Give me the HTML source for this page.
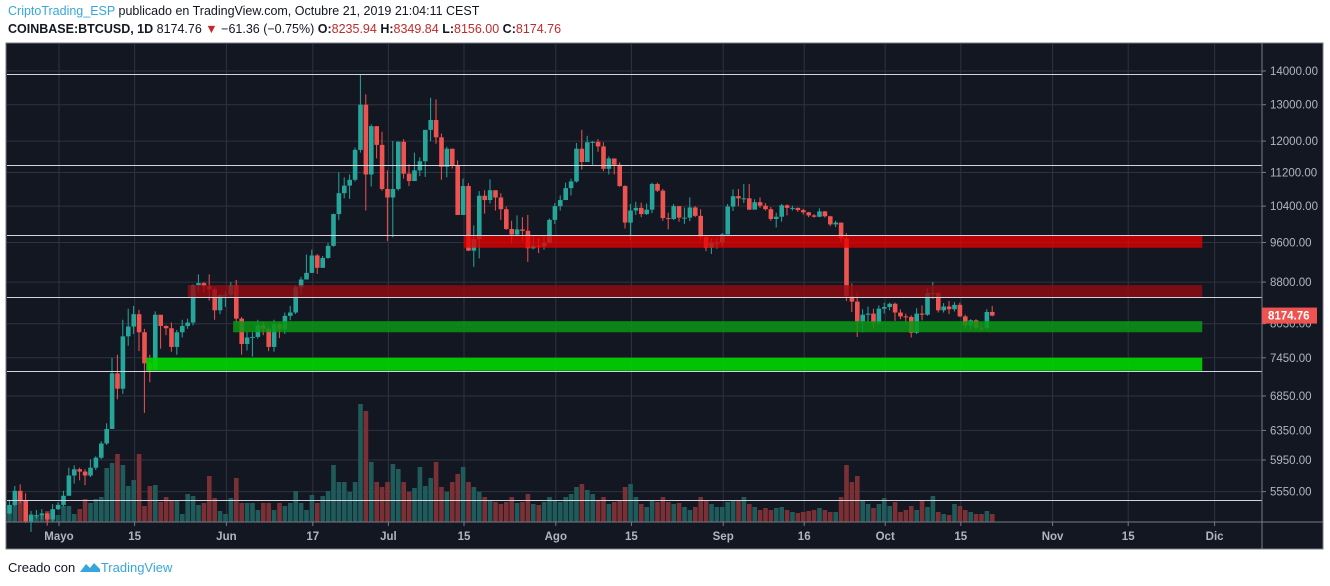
<!DOCTYPE html>
<html><head><meta charset="utf-8">
<style>
body{margin:0;width:1330px;height:586px;background:#fff;overflow:hidden;font-family:"Liberation Sans",sans-serif;}
#hdr1{position:absolute;left:8px;top:4px;font-size:12.5px;color:#131722;white-space:nowrap;}
#hdr2{position:absolute;left:8px;top:22px;font-size:12.5px;color:#131722;white-space:nowrap;}
.r{color:#c62828}
#foot{position:absolute;left:8px;top:560px;font-size:13px;color:#131722;white-space:nowrap;}
svg{position:absolute;left:0;top:0}
</style></head><body>
<div id="hdr1"><span style="color:#37a6de">CriptoTrading_ESP</span> publicado en TradingView.com, Octubre 21, 2019 21:04:11 CEST</div>
<div id="hdr2"><b>COINBASE:BTCUSD, 1D</b> 8174.76 <span class="r">▼</span> −61.36 (−0.75%) <b>O:</b><span class="r">8235.94</span> <b>H:</b><span class="r">8349.84</span> <b>L:</b><span class="r">8156.00</span> <b>C:</b><span class="r">8174.76</span></div>
<svg id="chart" width="1330" height="586"></svg>
<div id="foot">Creado con <span style="color:#37a6de"><svg width="22" height="12" style="position:relative;top:1px;left:0" viewBox="0 0 22 12"><path d="M1 11 L7 3 L11 7 L15 2 L21 8 L21 11 Z" fill="#37a6de"/></svg>TradingView</span></div>
<script>
const firstOpen=5290;
const closes=[5390,5560,5440,5200,5270,5270,5290,5220,5340,
5390,5500,5750,5830,5800,5750,5850,5980,6170,6370,7200,6960,7810,7980,8200,7880,7360,7260,8190,7990,7950,7630,7880,7990,8050,8740,8780,8720,8660,8270,8550,
8560,8740,8120,7680,7790,7800,8000,7940,7630,8020,7930,8170,8230,8700,8850,8980,9330,9080,9280,9530,10220,10700,10880,11020,11770,13000,11150,12400,11900,10800,
10600,10800,11980,11170,10990,11250,11480,12300,12570,12100,11340,11800,11380,10200,10870,9430,9670,10640,10540,10770,10600,10330,9890,9770,9880,9850,9480,9530,9520,9590,10090,
10400,10540,10820,10980,11800,11460,11970,11980,11860,11290,11550,11390,10870,10030,10300,10360,10220,10320,10920,10760,10130,10110,10400,10140,10140,10370,10180,9720,9490,9600,9600,
9770,10390,10630,10580,10580,10320,10490,10410,10330,10110,10160,10420,10360,10360,10310,10260,10190,10160,10280,10170,9990,10030,9690,8530,8430,8070,8190,8210,8050,8300,
8330,8390,8230,8160,8150,7870,8210,8190,8590,8590,8270,8340,8290,8370,8160,8000,8090,7960,7950,8240,8175];
const highs=[5450,5620,5640,5530,5320,5330,5340,5300,5400,
5420,5560,5850,5880,5850,5830,5960,6000,6200,6450,7450,7500,8100,8300,8350,8280,7940,7500,8250,8180,8000,8050,7920,8100,8120,8750,8950,8800,8950,8700,8570,
8630,8800,8840,8150,7890,7880,8100,8060,7980,8100,8050,8230,8350,8740,8900,9350,9450,9360,9320,9590,10230,11200,11080,11150,11830,13880,13300,12450,12400,12250,
11250,12000,12000,12050,11400,11700,11580,12300,13200,13150,12200,11850,11800,11500,11050,10940,9970,10750,10770,11030,10690,10700,10390,10070,10190,10150,10200,9730,9700,9760,10120,
10470,10650,10950,11050,11950,12300,12140,12000,12050,11970,11600,11530,11450,10890,10450,10500,10480,10460,10950,10950,10800,10250,10450,10400,10370,10600,10400,10330,9740,9690,9680,
9800,10450,10790,10800,10920,10920,10560,10600,10470,10380,10250,10450,10440,10410,10370,10340,10270,10220,10350,10290,10180,10070,10030,9800,8770,8600,8290,8340,8300,8360,
8410,8410,8410,8290,8210,8180,8310,8360,8680,8800,8600,8400,8440,8420,8410,8190,8110,8110,8050,8290,8350];
const lows=[5280,5380,5410,5180,5080,5230,5220,5150,5200,
5330,5370,5500,5650,5690,5630,5730,5820,5960,6150,6370,6800,6880,7650,7850,7560,6600,7060,7250,7600,7830,7550,7500,7790,7940,8000,8600,8600,8450,8100,8200,
8330,8500,8050,7500,7570,7470,7770,7830,7560,7550,7780,7850,8090,8200,8560,8900,8980,8960,9080,9260,9510,10090,10580,10570,10980,11700,10300,10860,11550,10760,
9630,9710,10760,11050,10870,10990,11110,11090,12000,11930,11020,11080,11300,10200,10200,9420,9100,9270,10230,10460,10300,10090,9870,9580,9750,9630,9200,9460,9380,9450,9580,
10000,10300,10580,10650,10950,11270,11590,11390,11720,11230,11150,11150,10850,9900,9650,10200,10150,10200,10240,10730,10070,9880,10090,10050,10000,10060,10150,9640,9420,9360,9470,
9520,9770,10290,10400,10470,10310,10320,10360,10300,10070,9920,10050,10190,10300,10270,10210,10150,10140,10150,10140,9950,9930,9620,8440,8240,7800,7880,8050,7950,8010,
8210,8270,8080,8110,8050,7790,7850,8090,8170,8480,8230,8230,8200,8250,8150,7940,7940,7920,7900,7930,8160];
const volumes=[16,29,26,21,8,6,7,11,11,
7,16,16,8,13,23,19,23,25,54,59,68,57,36,42,68,16,36,37,20,25,21,21,8,28,26,17,19,46,24,11,
8,24,44,19,19,19,12,19,19,12,19,16,19,31,19,12,27,19,26,31,57,40,40,30,40,118,111,60,40,35,
40,58,53,40,30,34,55,36,44,60,35,30,40,48,55,40,35,30,25,22,20,18,20,25,19,20,28,18,17,20,25,
22,20,25,28,35,38,32,28,22,25,18,20,22,35,38,25,18,15,22,20,25,20,18,19,15,12,15,25,22,18,15,
15,20,22,22,25,18,15,12,14,12,14,15,12,10,9,10,11,12,14,12,10,10,25,57,40,46,22,18,14,18,
24,16,20,10,12,16,12,21,15,26,10,8,7,18,16,12,10,8,8,11,8];
const firstDay=-9; // days relative to May 1 (Apr 22)
const priceTicks=[14000,13000,12000,11200,10400,9600,8800,8030,7450,6850,6350,5950,5550];
const dateTickDays=[0,14,31,47,61,75,92,106,123,138,153,167,184,198,214];
const dateTickLabels=["Mayo","15","Jun","17","Jul","15","Ago","15","Sep","16","Oct","15","Nov","15","Dic"];
const hLines=[13910,11390,9750,8520,7240,5450];
const zonePrices=[[9742,9490],[8740,8515],[8075,7880],[7451,7240]];
const zoneStartDays=[75.5,24.4,32.8,16.7];
const zoneEndDay=211.9;
const zoneColors=["rgba(230,0,0,0.78)","rgba(150,10,18,0.8)","rgba(10,150,20,0.85)","rgba(0,210,0,0.92)"];
const lastPrice=8174.76;

const NS="http://www.w3.org/2000/svg";
const svg=document.getElementById('chart');
function mk(t,a,p){const e=document.createElementNS(NS,t);for(const k in a)e.setAttribute(k,a[k]);(p||svg).appendChild(e);return e;}
const L=7,R=1262,T=44,B=522;
function y(p){return 71+(Math.log(14000)-Math.log(p))*454.6;}
function x(d){return 59+d*5.4-1;}
function xt(d){return 59+d*5.4;}
const volBase=522, volScale=1.0;

let e=mk('rect',{x:6,y:43,width:1317,height:506,fill:'#131722',stroke:'#787b86','stroke-width':1});

priceTicks.forEach(p=>{const g=mk('line',{x1:L,x2:R,y1:y(p),y2:y(p),stroke:'#2f333f','stroke-width':1});
});
dateTickDays.forEach(d=>{const g=mk('line',{x1:xt(d),x2:xt(d),y1:T,y2:B,stroke:'#2f333f','stroke-width':1});
});
const vg=mk('g',{});
closes.forEach((c,i)=>{const o=i?closes[i-1]:firstOpen;const h=volumes[i]*volScale;
const r=mk('rect',{x:x(firstDay+i)-2.2,y:volBase-h,width:4.6,height:h,fill:c>=o?'#1f5b5a':'#7a3035'},vg);
});
const cg=mk('g',{});
closes.forEach((c,i)=>{const o=i?closes[i-1]:firstOpen;const col=c>=o?'#26a69a':'#ef5350';const cx=x(firstDay+i);
const w=mk('line',{x1:cx,x2:cx,y1:y(highs[i]),y2:y(lows[i]),stroke:col,'stroke-width':1},cg);

const t=Math.min(y(o),y(c)),hh=Math.max(1,Math.abs(y(o)-y(c)));
const b=mk('rect',{x:cx-2.2,y:t,width:4.6,height:hh,fill:col},cg);
});
zonePrices.forEach((z,i)=>{const x0=x(zoneStartDays[i])-2,x1=x(zoneEndDay);
const r=mk('rect',{x:x0,y:y(z[0]),width:x1-x0,height:y(z[1])-y(z[0]),fill:zoneColors[i]});
});
hLines.forEach(p=>{const l=mk('line',{x1:L,x2:R,y1:Math.round(y(p))+0.5,y2:Math.round(y(p))+0.5,stroke:'#d1d4dc','stroke-width':1});
});
e=mk('line',{x1:R,x2:R,y1:43,y2:549,stroke:'#787b86'});
e=mk('line',{x1:6,x2:1323,y1:B,y2:B,stroke:'#787b86'});
priceTicks.forEach(p=>{const tk=mk('line',{x1:R,x2:R+4,y1:y(p),y2:y(p),stroke:'#787b86'});

const t=mk('text',{x:1270,y:y(p)+4,fill:'#b2b5be','font-size':11.5,'font-family':'Liberation Sans, sans-serif'});t.textContent=p.toFixed(2);
});
dateTickDays.forEach((d,i)=>{const tk=mk('line',{x1:xt(d),x2:xt(d),y1:B,y2:B+4,stroke:'#787b86'});

const t=mk('text',{x:xt(d),y:540,fill:'#b2b5be','font-size':11.5,'font-weight':'bold','text-anchor':'middle','font-family':'Liberation Sans, sans-serif'});t.textContent=dateTickLabels[i];
});
const ly=y(lastPrice);
e=mk('rect',{x:R,y:ly-8,width:55,height:16,fill:'#ef5350'});
e=mk('text',{x:1268,y:ly+4,fill:'#fff','font-size':11.5,'font-weight':'bold','font-family':'Liberation Sans, sans-serif'});e.textContent=lastPrice.toFixed(2);

</script>
</body></html>
